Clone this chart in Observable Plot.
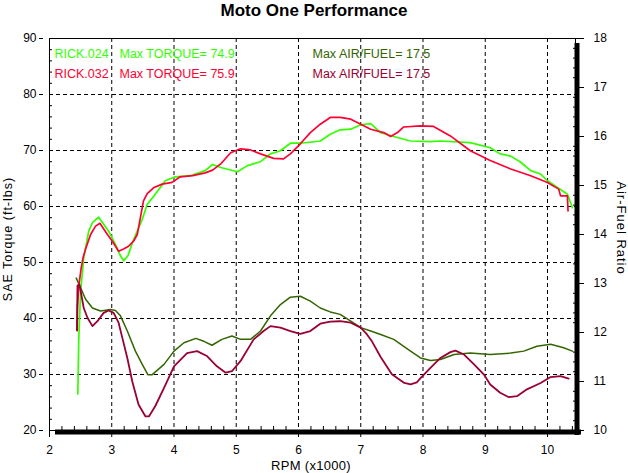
<!DOCTYPE html>
<html>
<head>
<meta charset="utf-8">
<script src="https://cdn.jsdelivr.net/npm/d3@7"></script>
<script src="https://cdn.jsdelivr.net/npm/@observablehq/plot@0.6"></script>
<style>
  html, body { margin: 0; padding: 0; background: #fff; }
  #wrap { position: relative; width: 628px; height: 473px; overflow: hidden; font-family: "Liberation Sans", Arial, sans-serif; }
  #wrap svg { display: block; }
  .lbl { position: absolute; white-space: nowrap; color: #000; font-family: "Liberation Sans", Arial, sans-serif; }
</style>
</head>
<body>
<div id="wrap"></div>
<script>
// ---------- Data ----------
const title = "Moto One Performance";
const xTitle = "RPM (x1000)";
const yTitle = "SAE Torque (ft-lbs)";
const y2Title = "Air-Fuel Ratio";

const runNames = ["RICK.024", "RICK.032"];
const maxTorque = [74.9, 75.9];
const maxAirFuel = [17.5, 17.5];

const rpmTicks = [2, 3, 4, 5, 6, 7, 8, 9, 10];
const torqueTicks = [20, 30, 40, 50, 60, 70, 80, 90];
const afrTicks = [10, 11, 12, 13, 14, 15, 16, 17, 18];

// RICK.024 torque
const torque024Rpm = [2.455, 2.47, 2.5, 2.55, 2.63, 2.69, 2.79, 2.95, 3.06, 3.14, 3.19, 3.26, 3.33, 3.41, 3.49, 3.57, 3.68, 3.78, 3.86, 4.02, 4.26, 4.5, 4.62, 4.75, 5.02, 5.18, 5.39, 5.55, 5.71, 5.87, 6.03, 6.35, 6.51, 6.67, 6.84, 7.0, 7.16, 7.32, 7.53, 7.8, 8.12, 8.28, 8.76, 9.08, 9.24, 9.41, 9.57, 9.73, 9.89, 10.0, 10.16, 10.32, 10.40];
const torque024 = [26.5, 36.3, 44.9, 50.8, 55.6, 57.1, 58.1, 55.6, 53.2, 51.2, 50.3, 51.2, 53.5, 55.6, 57.7, 60.4, 61.9, 63.4, 64.6, 65.3, 65.5, 66.4, 67.5, 66.96, 66.2, 67.3, 68.0, 69.4, 69.95, 71.3, 71.3, 71.7, 72.9, 73.7, 73.8, 74.6, 74.8, 73.2, 72.5, 71.7, 71.6, 71.7, 71.4, 70.5, 69.4, 69.0, 67.9, 66.4, 65.8, 64.6, 63.4, 62.2, 59.8];

// RICK.032 torque
const torque032Rpm = [2.445, 2.45, 2.47, 2.51, 2.54, 2.58, 2.66, 2.74, 2.81, 2.93, 3.01, 3.11, 3.19, 3.27, 3.35, 3.41, 3.46, 3.51, 3.57, 3.68, 3.81, 3.97, 4.1, 4.3, 4.5, 4.62, 4.75, 4.91, 5.07, 5.23, 5.39, 5.6, 5.76, 5.87, 6.03, 6.19, 6.35, 6.51, 6.67, 6.84, 7.0, 7.16, 7.37, 7.48, 7.59, 7.69, 7.96, 8.17, 8.44, 8.76, 9.08, 9.41, 9.73, 10.0, 10.18, 10.21, 10.32, 10.33];
const torque032 = [37.8, 42.0, 45.8, 49.1, 50.9, 52.4, 55.0, 56.5, 57.0, 55.0, 53.8, 52.0, 52.4, 52.9, 53.8, 55.0, 58.0, 61.0, 62.3, 63.4, 64.0, 64.3, 65.3, 65.5, 66.0, 66.5, 67.6, 69.6, 70.3, 70.1, 69.4, 68.6, 68.5, 69.4, 71.2, 73.2, 74.7, 75.9, 75.9, 75.6, 74.7, 73.8, 73.2, 72.5, 73.2, 74.2, 74.4, 74.3, 72.6, 69.95, 68.2, 66.7, 65.5, 64.3, 63.1, 61.9, 61.9, 59.2];

// RICK.024 air/fuel
const afr024Rpm = [2.43, 2.5, 2.58, 2.69, 2.82, 2.98, 3.06, 3.14, 3.25, 3.38, 3.49, 3.58, 3.65, 3.84, 4.0, 4.16, 4.35, 4.48, 4.61, 4.77, 4.93, 5.07, 5.23, 5.39, 5.55, 5.71, 5.87, 6.03, 6.19, 6.35, 6.51, 6.67, 6.84, 7.0, 7.16, 7.32, 7.53, 7.8, 7.96, 8.12, 8.28, 8.5, 8.76, 9.08, 9.41, 9.62, 9.83, 10.05, 10.26, 10.4];
const afr024 = [13.11, 12.91, 12.68, 12.5, 12.44, 12.47, 12.45, 12.34, 12.03, 11.62, 11.35, 11.14, 11.14, 11.35, 11.62, 11.79, 11.88, 11.82, 11.74, 11.86, 11.93, 11.86, 11.86, 12.03, 12.34, 12.57, 12.72, 12.74, 12.64, 12.5, 12.42, 12.37, 12.23, 12.1, 12.03, 11.96, 11.86, 11.62, 11.48, 11.43, 11.45, 11.55, 11.58, 11.55, 11.58, 11.62, 11.72, 11.76, 11.69, 11.62];

// RICK.032 air/fuel
const afr032Rpm = [2.44, 2.45, 2.48, 2.51, 2.55, 2.61, 2.69, 2.77, 2.87, 2.95, 3.03, 3.11, 3.17, 3.25, 3.33, 3.43, 3.54, 3.6, 3.7, 3.84, 4.0, 4.21, 4.37, 4.53, 4.69, 4.83, 4.93, 5.07, 5.28, 5.44, 5.55, 5.71, 5.87, 6.03, 6.19, 6.35, 6.51, 6.67, 6.84, 7.0, 7.1, 7.18, 7.32, 7.5, 7.7, 7.8, 7.9, 7.96, 8.12, 8.28, 8.44, 8.52, 8.66, 8.82, 8.98, 9.08, 9.24, 9.38, 9.51, 9.67, 9.89, 10.05, 10.21, 10.34];
const afr032 = [12.05, 12.96, 12.98, 12.78, 12.5, 12.3, 12.13, 12.23, 12.4, 12.45, 12.4, 12.2, 11.89, 11.48, 11.0, 10.53, 10.29, 10.29, 10.5, 10.87, 11.31, 11.58, 11.62, 11.52, 11.31, 11.18, 11.21, 11.42, 11.86, 12.03, 12.13, 12.1, 12.03, 11.97, 12.03, 12.18, 12.22, 12.23, 12.2, 12.1, 11.96, 11.82, 11.5, 11.15, 10.97, 10.94, 10.98, 11.07, 11.28, 11.48, 11.6, 11.63, 11.55, 11.35, 11.14, 10.94, 10.77, 10.68, 10.7, 10.84, 10.97, 11.09, 11.11, 11.06];

// ---------- Styles ----------
const cGreen = "#33ff00", cRed = "#ff0033", cDarkGreen = "#336600", cDarkRed = "#990033";

const xDomain = [2, 10.45];
const yDomain = [20, 90];
const afrDomain = [10, 18];
const toT = a => yDomain[0] + (a - afrDomain[0]) * (yDomain[1] - yDomain[0]) / (afrDomain[1] - afrDomain[0]);
const fromT = t => afrDomain[0] + (t - yDomain[0]) * (afrDomain[1] - afrDomain[0]) / (yDomain[1] - yDomain[0]);

const zip = (xs, ys) => xs.map((x, i) => ({x, y: ys[i]}));
const t024 = zip(torque024Rpm, torque024);
const t032 = zip(torque032Rpm, torque032);
const a024 = zip(afr024Rpm, afr024);
const a032 = zip(afr032Rpm, afr032);

const minorX = d3.range(2.2, 10.45, 0.2).filter(v => Math.abs(v - Math.round(v)) > 1e-6);
const minorY = d3.range(22, 90, 2).filter(v => v % 10 !== 0);
const minorA = d3.range(10.2, 18, 0.2).filter(v => Math.abs(v - Math.round(v)) > 1e-6).map(toT);

const dash = {stroke: "black", strokeOpacity: 1, strokeDasharray: "4,3", strokeWidth: 1};
const blank = () => "";

const rowDy = [15.5, 35];
const legendMarks = [];
runNames.forEach((name, i) => {
  const c1 = i === 0 ? cGreen : cRed;
  const c2 = i === 0 ? cDarkGreen : cDarkRed;
  const common = {frameAnchor: "top-left", textAnchor: "start", lineAnchor: "middle", dy: rowDy[i], fontSize: 12.5};
  legendMarks.push(Plot.text([name], {...common, dx: 5, fill: c1}));
  legendMarks.push(Plot.text([`Max TORQUE= ${maxTorque[i].toFixed(1)}`], {...common, dx: 70, fill: c1}));
  legendMarks.push(Plot.text([`Max AIR/FUEL= ${maxAirFuel[i].toFixed(1)}`], {...common, dx: 263, fill: c2}));
});

const chart = Plot.plot({
  width: 628,
  height: 473,
  marginLeft: 49,
  marginRight: 53,
  marginTop: 38,
  marginBottom: 43,
  style: {fontFamily: "'Liberation Sans', Arial, sans-serif", fontSize: "12px", background: "white", color: "black"},
  x: {domain: xDomain},
  y: {domain: yDomain},
  marks: [
    Plot.gridX(rpmTicks.filter(d => d > xDomain[0]), dash),
    Plot.gridY(torqueTicks.filter(d => d > yDomain[0] && d < yDomain[1]), dash),
    Plot.axisY(minorY, {anchor: "left", tickSize: 3, dx: 3, tickFormat: blank, label: null}),
    Plot.axisX(minorX, {anchor: "bottom", tickSize: 4, dy: -4, tickFormat: blank, label: null}),
    Plot.axisY(minorA, {anchor: "right", tickSize: 3, dx: -3, tickFormat: blank, label: null}),
    Plot.axisY(torqueTicks, {anchor: "left", tickSize: 4, dx: -6, tickPadding: 3, label: null}),
    Plot.axisX(rpmTicks, {anchor: "bottom", tickSize: 7, tickPadding: 8, label: null}),
    Plot.axisY(afrTicks.map(toT), {anchor: "right", tickSize: 8, tickPadding: 10, tickFormat: d => String(Math.round(fromT(d))), label: null}),
    Plot.line(t024, {x: "x", y: "y", stroke: cGreen, strokeWidth: 1.7}),
    Plot.line(a024, {x: "x", y: d => toT(d.y), stroke: cDarkGreen, strokeWidth: 1.5}),
    Plot.line(t032, {x: "x", y: "y", stroke: cRed, strokeWidth: 1.7}),
    Plot.line(a032, {x: "x", y: d => toT(d.y), stroke: cDarkRed, strokeWidth: 1.8}),
    Plot.frame({stroke: "black", strokeWidth: 1}),
    Plot.ruleX([xDomain[1]], {stroke: "black", strokeWidth: 5, dx: 1.5, dy: 5}),
    Plot.ruleY([yDomain[0]], {stroke: "black", strokeWidth: 5, dy: 1.5, dx: 6}),
    ...legendMarks
  ]
});

const wrap = document.getElementById("wrap");
wrap.appendChild(chart);

function addLabel(text, cx, cy, size, extra) {
  const d = document.createElement("div");
  d.className = "lbl";
  d.textContent = text;
  d.style.left = cx + "px";
  d.style.top = cy + "px";
  d.style.fontSize = size + "px";
  d.style.lineHeight = Math.round(size * 1.2) + "px";
  d.style.transform = "translate(-50%, -50%)" + (extra.rotate ? ` rotate(${extra.rotate}deg)` : "");
  if (extra.weight) d.style.fontWeight = extra.weight;
  if (extra.ls) d.style.letterSpacing = extra.ls + "px";
  wrap.appendChild(d);
}
addLabel(title, 314, 10.5, 17, {weight: "bold"});
addLabel(xTitle, 311, 466, 13, {ls: 0.3});
addLabel(yTitle, 7.5, 239, 12.5, {rotate: -90, ls: 1});
addLabel(y2Title, 620.5, 228, 13, {rotate: 90, ls: 1});
</script>
</body>
</html>
